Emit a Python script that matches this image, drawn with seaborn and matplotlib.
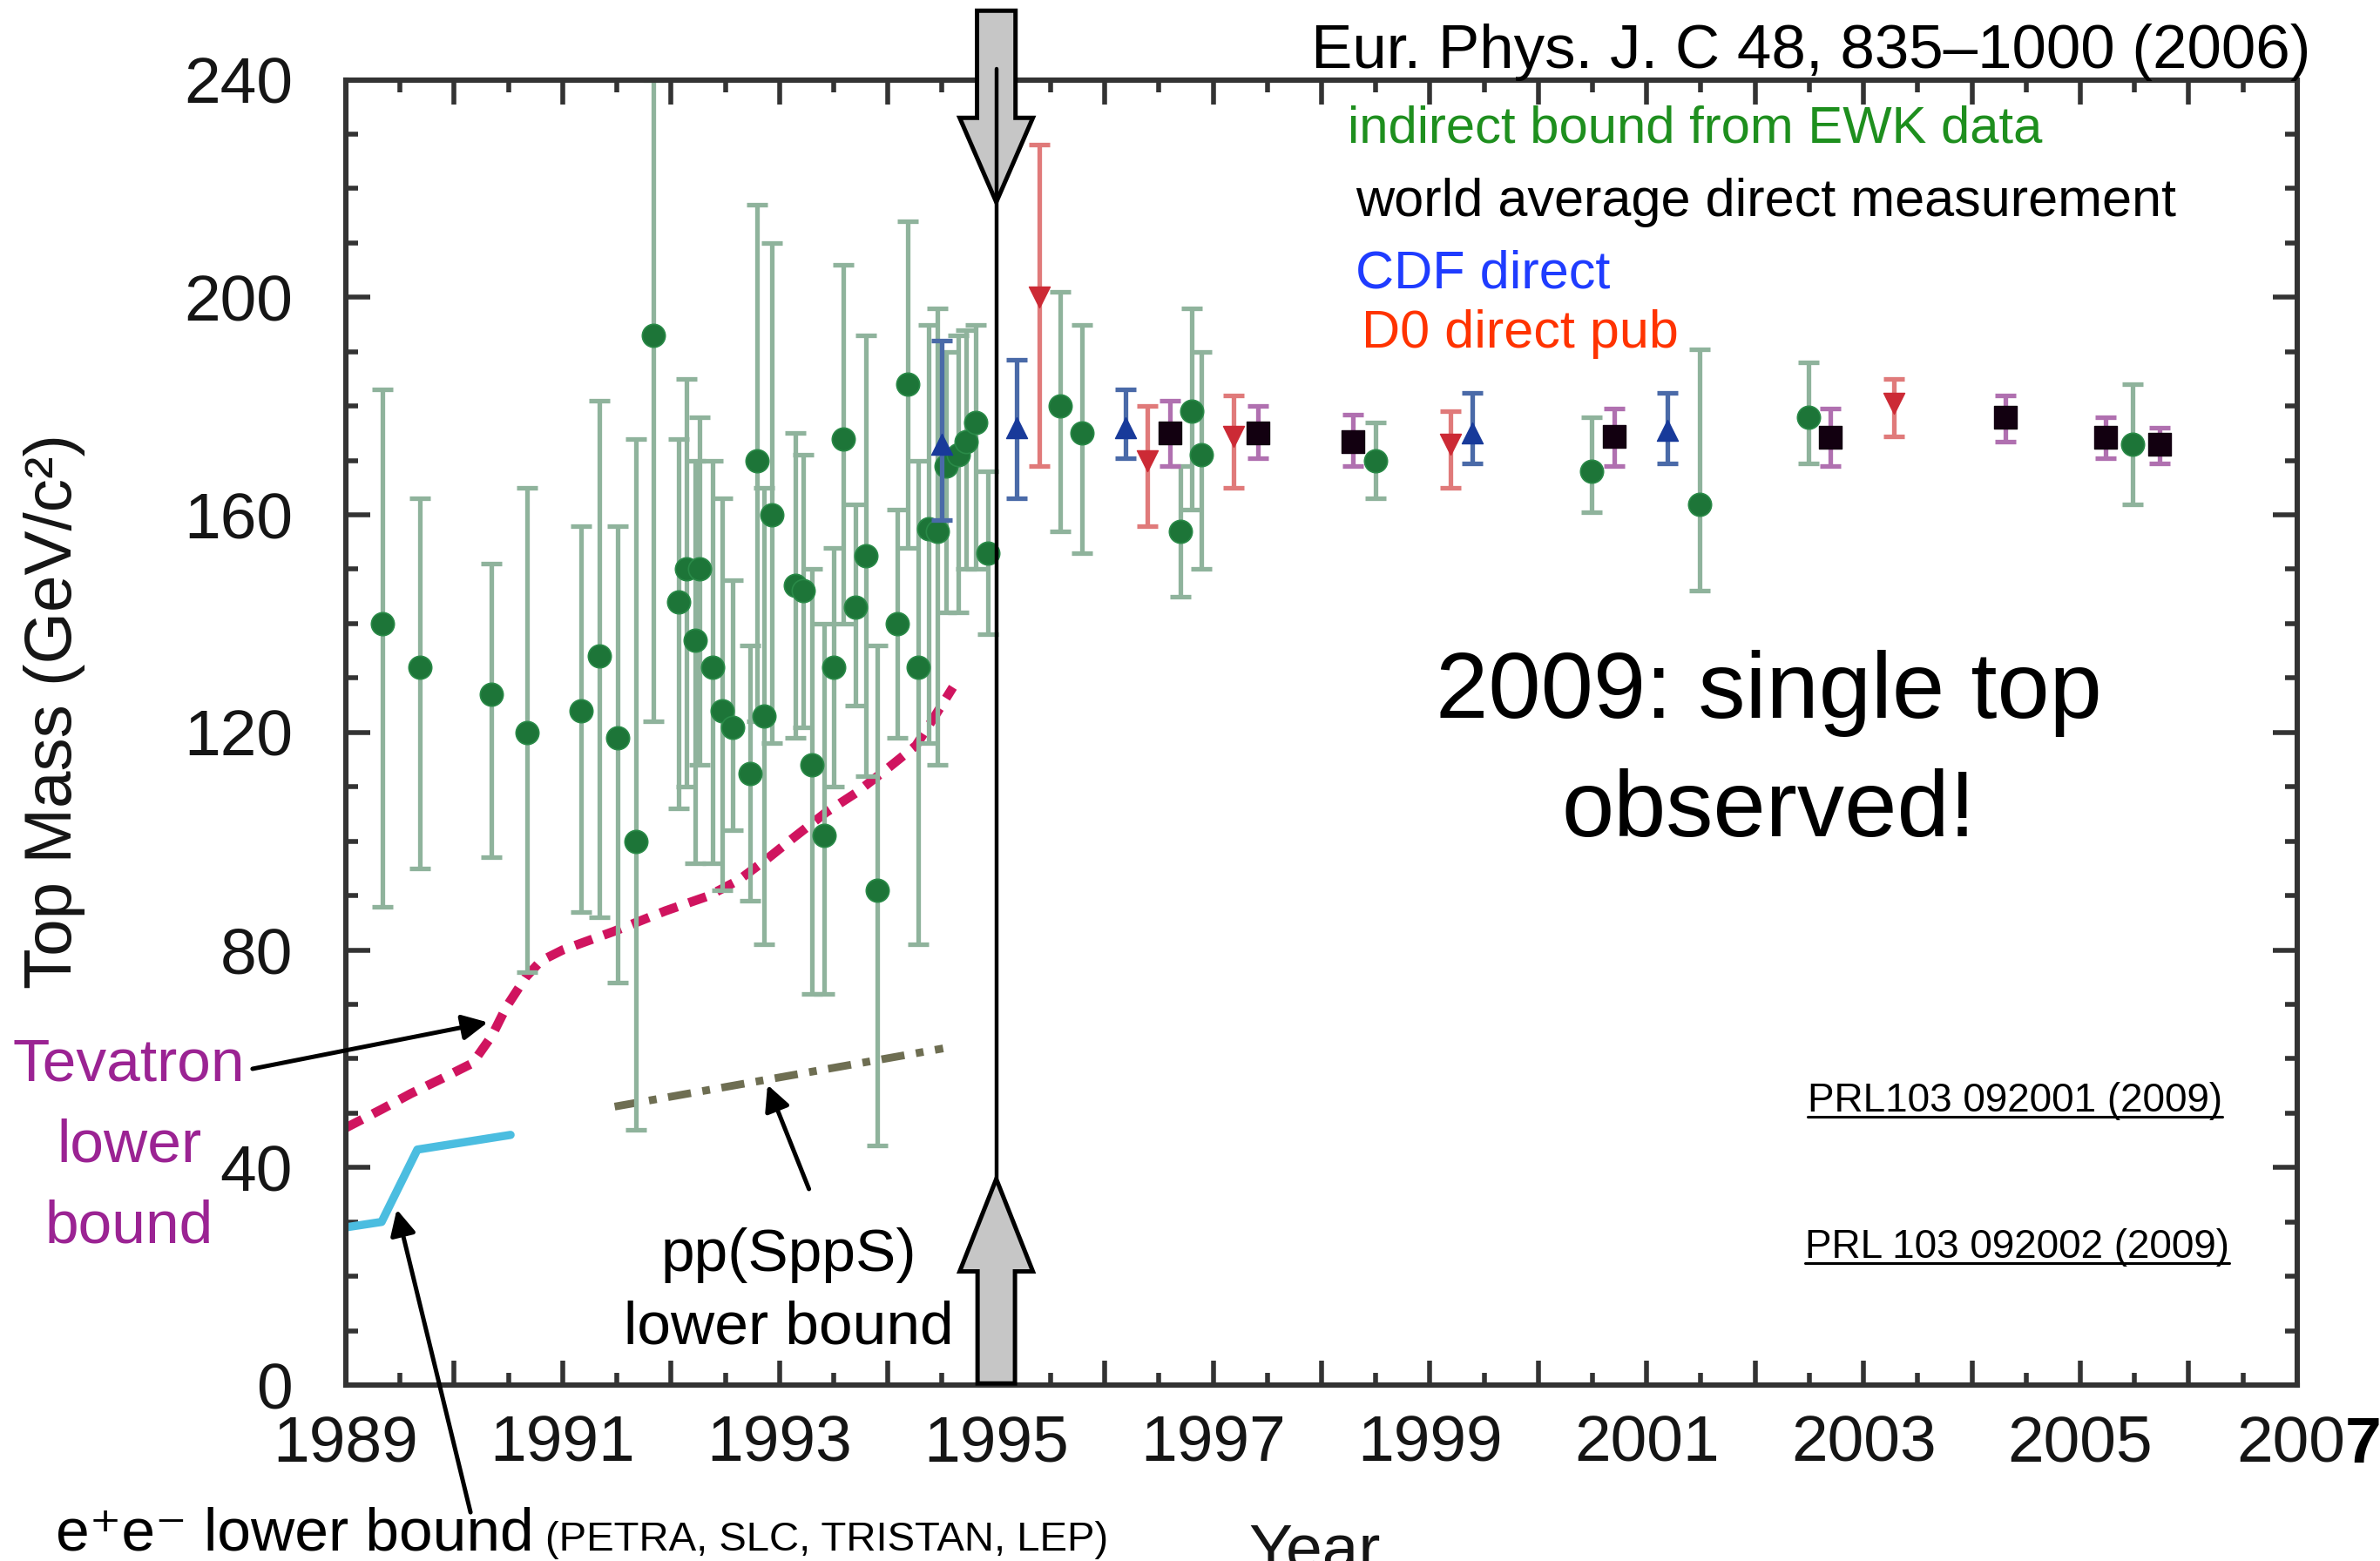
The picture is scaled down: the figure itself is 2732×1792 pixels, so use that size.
import numpy as np
import pandas as pd
import matplotlib
matplotlib.use("Agg")
import matplotlib.pyplot as plt
import seaborn as sns
from matplotlib.patches import FancyArrow
from matplotlib.lines import Line2D

# ---------------- data ----------------
ewk_year = [1989.34, 1989.68, 1990.34, 1990.67, 1991.17, 1991.34, 1991.51, 1991.68, 1991.84,
            1992.07, 1992.14, 1992.22, 1992.26, 1992.38, 1992.47, 1992.57, 1992.73, 1992.79,
            1992.86, 1992.93, 1993.15, 1993.22, 1993.30, 1993.41, 1993.50, 1993.59, 1993.70,
            1993.80, 1993.90, 1994.09, 1994.18, 1994.28, 1994.38, 1994.46, 1994.54, 1994.65,
            1994.72, 1994.81, 1994.92, 1995.59, 1995.79, 1996.70, 1996.80, 1996.89, 1998.50,
            2000.49, 2001.49, 2002.49, 2005.48]
ewk_mass = [140, 132, 127, 120, 124, 134, 119, 100, 193,
            144, 150, 137, 150, 132, 124, 121, 112.5, 170,
            123, 160, 147, 146, 114, 101, 132, 174, 143,
            152.5, 91, 140, 184, 132, 157.5, 157, 169, 171,
            173.5, 177, 153, 180, 175, 157, 179, 171, 170,
            168, 162, 178, 173]
ewk_lo = [88, 95, 97, 76, 87, 86, 74, 47, 122,
          106, 110, 96, 114, 96, 91, 102, 89, 122,
          81, 118, 119, 121, 72, 72, 110, 140, 125,
          112, 44, 119, 154, 81, 118, 114, 142, 142,
          150, 150, 138, 157, 153, 145, 161, 150, 163,
          160.5, 146, 169.5, 162]
ewk_hi = [183, 163, 151, 165, 158, 181, 158, 174, 240,
          174, 185, 170, 178, 170, 163, 148, 136, 217,
          165, 210, 175, 171, 150, 140, 154, 206, 162,
          193, 136, 161, 214, 170, 195, 198, 190, 193,
          194, 195, 168, 201, 195, 169, 198, 190, 177,
          178, 190.5, 188, 184]

cdf_year = [1994.50, 1995.19, 1996.19, 1999.39, 2001.19]
cdf_mass = [173, 176, 176, 175, 175.5]
cdf_lo = [159, 163, 170.5, 169.5, 169.5]
cdf_hi = [192, 188.5, 183, 182.5, 182.5]

d0_year = [1995.40, 1996.39, 1997.19, 1999.19, 2003.28]
d0_mass = [200, 170, 174.5, 173, 180.5]
d0_lo = [169, 158, 165, 165, 174.5]
d0_hi = [228, 180, 182, 179, 185]

wa_year = [1996.60, 1997.41, 1998.29, 2000.70, 2002.69, 2004.31, 2005.23, 2005.73]
wa_mass = [175, 175, 173.5, 174.5, 174.3, 178, 174.3, 173]
wa_lo = [169, 170.5, 169, 169, 169, 173.5, 170.5, 169.5]
wa_hi = [181, 180, 178.5, 179.5, 179.5, 182, 178, 176]

tev_year = [1989.0, 1989.33, 1989.6, 1989.88, 1990.17, 1990.35, 1990.48, 1990.66, 1990.8,
            1991.0, 1991.47, 1991.95, 1992.34, 1992.62, 1992.89, 1993.14, 1993.43, 1993.70,
            1993.98, 1994.26, 1994.44, 1994.60]
tev_mass = [47.3, 50.7, 53.6, 56.3, 59.2, 64.3, 69.5, 75, 78,
            80, 83.4, 87.2, 89.9, 92.8, 96.8, 100.8, 105.3, 108.8,
            113.1, 117.6, 123.2, 128.3]

ee_year = [1989.0, 1989.33, 1989.66, 1990.52]
ee_mass = [29, 30, 43.3, 46]

spps_year = [1991.48, 1994.51]
spps_mass = [51.2, 61.9]

x_ticks = list(range(1989, 2008))
x_labels = [str(y) if ((y - 1989) % 2 == 0 and y < 2007) else "" for y in x_ticks]
y_ticks = [0, 40, 80, 120, 160, 200, 240]

# ---------------- style ----------------
sns.set_style("ticks")
plt.rcParams["font.family"] = ["Liberation Sans", "DejaVu Sans"]

fig = plt.figure(figsize=(13.66, 8.96), dpi=200)
ax = fig.add_axes([0.1453, 0.1127, 0.8199, 0.8362])
ax.set_xlim(1989, 2007)
ax.set_ylim(0, 240)

spine_col = "#333333"
lab_col = "#151515"
for s in ax.spines.values():
    s.set_color(spine_col)
    s.set_linewidth(2.2)

ax.set_xticks(x_ticks)
ax.set_xticklabels(x_labels)
ax.set_xticks(np.arange(1989, 2007.01, 0.5), minor=True)
ax.set_yticks(y_ticks)
ax.set_yticklabels([str(v) for v in y_ticks])
ax.set_yticks(np.arange(0, 241, 10), minor=True)
ax.tick_params(which="both", direction="in", top=True, right=True, color=spine_col, width=2)
ax.tick_params(which="major", length=10, labelsize=27, labelcolor=lab_col)
ax.tick_params(which="minor", length=5)
ax.tick_params(axis="x", which="major", pad=12)
ax.tick_params(axis="y", which="major", pad=22)
ax.set_xlabel("")
ax.set_ylabel("")

# ---------------- bound lines ----------------
sns.lineplot(x=tev_year, y=tev_mass, ax=ax, color="#d0145f", lw=3.8, sort=False,
             estimator=None, linestyle=(0, (2.0, 1.3)), zorder=2)
sns.lineplot(x=ee_year, y=ee_mass, ax=ax, color="#4bbde0", lw=3.4, sort=False,
             estimator=None, zorder=2)
sns.lineplot(x=spps_year, y=spps_mass, ax=ax, color="#6e6e52", lw=3.2, sort=False,
             estimator=None, linestyle=(0, (3.0, 1.5, 1.0, 1.5)), zorder=2)

# ---------------- data points ----------------
def bars(xs, ys, lo, hi, col, lw=1.9, cap=4.2, z=2):
    ys = np.asarray(ys, float)
    err = [ys - np.asarray(lo, float), np.asarray(hi, float) - ys]
    ax.errorbar(xs, ys, yerr=err, fmt="none", ecolor=col, elinewidth=lw,
                capsize=cap, capthick=lw, zorder=z)

bars(ewk_year, ewk_mass, ewk_lo, ewk_hi, "#8fb39c")
sns.scatterplot(x=ewk_year, y=ewk_mass, ax=ax, marker="o", s=90, color="#1d7538",
                edgecolor="#2a8a48", linewidth=0.6, zorder=3, legend=False)

bars(cdf_year, cdf_mass, cdf_lo, cdf_hi, "#4a6aa8", z=4)
sns.scatterplot(x=cdf_year, y=cdf_mass, ax=ax, marker="^", s=75, color="#183a9a",
                edgecolor="#183a9a", linewidth=0.5, zorder=5, legend=False)

bars(d0_year, d0_mass, d0_lo, d0_hi, "#e07a7a", z=4)
sns.scatterplot(x=d0_year, y=d0_mass, ax=ax, marker="v", s=75, color="#cc2a35",
                edgecolor="#cc2a35", linewidth=0.5, zorder=5, legend=False)

bars(wa_year, wa_mass, wa_lo, wa_hi, "#b070b0", z=4)
sns.scatterplot(x=wa_year, y=wa_mass, ax=ax, marker="s", s=90, color="#120010",
                edgecolor="#120010", linewidth=0.5, zorder=5, legend=False)

# ---------------- 1995 arrows and line ----------------
arr_kw = dict(length_includes_head=True, fc="#c6c6c6", ec="black", lw=1.8, clip_on=False, zorder=6)
ax.add_patch(FancyArrow(1995.0, 252.7, 0, -35.2, width=0.355, head_width=0.675,
                        head_length=15.5, **arr_kw))
ax.add_patch(FancyArrow(1995.0, 0.3, 0, 37.6, width=0.345, head_width=0.675,
                        head_length=17, **arr_kw))
ax.plot([1995.0, 1995.0], [242, 38], color="black", lw=1.6, zorder=7, clip_on=False)

# ---------------- texts ----------------
fig.text(0.023, 0.5443, "Top Mass (GeV/c²)", rotation=90, ha="center", va="center",
         fontsize=27.5, color=lab_col)
fig.text(0.5523, 0.0250, "Year", ha="center", va="top", fontsize=27, color=lab_col)
# last x label: "200" followed by a bold "7"
fig.text(0.9853, 0.0631, "200", ha="right", va="baseline", fontsize=27, color=lab_col)
fig.text(0.9930, 0.0631, "7", ha="center", va="baseline", fontsize=27,
         fontweight="bold", color="black")

fig.text(0.9707, 0.9567, "Eur. Phys. J. C 48, 835–1000 (2006)", ha="right",
         va="baseline", fontsize=25.5, color="black")
fig.text(0.5663, 0.9087, "indirect bound from EWK data", ha="left", va="baseline",
         fontsize=21.5, color="#1e8f1e")
fig.text(0.5695, 0.8616, "world average direct measurement", ha="left", va="baseline",
         fontsize=22, color="black")
fig.text(0.5695, 0.8158, "CDF direct", ha="left", va="baseline", fontsize=22,
         color="#1f3cff")
fig.text(0.5720, 0.7772, "D0 direct pub", ha="left", va="baseline", fontsize=22,
         color="#ff3300")

fig.text(0.7433, 0.5401, "2009: single top", ha="center", va="baseline", fontsize=39,
         color="black")
fig.text(0.7433, 0.4642, "observed!", ha="center", va="baseline", fontsize=39,
         color="black")

prl = []
prl.append((fig.text(0.9337, 0.2879, "PRL103 092001 (2009)", ha="right", va="baseline",
                     fontsize=16.5, color="black"), 0.2879))
prl.append((fig.text(0.9365, 0.1943, "PRL 103 092002 (2009)", ha="right", va="baseline",
                     fontsize=16.5, color="black"), 0.1943))

tev_col = "#9b2393"
fig.text(0.0542, 0.3076, "Tevatron", ha="center", va="baseline", fontsize=25, color=tev_col)
fig.text(0.0542, 0.2561, "lower", ha="center", va="baseline", fontsize=25, color=tev_col)
fig.text(0.0542, 0.2037, "bound", ha="center", va="baseline", fontsize=25, color=tev_col)

fig.text(0.3312, 0.1858, "pp(SppS)", ha="center", va="baseline", fontsize=25, color="black")
fig.text(0.3312, 0.1393, "lower bound", ha="center", va="baseline", fontsize=25, color="black")

ee_txt = fig.text(0.0235, 0.0068, "e⁺e⁻ lower bound", ha="left", va="baseline",
                  fontsize=25, color="black")

ann_kw = dict(arrowstyle="-|>", color="black", lw=1.8, mutation_scale=22, shrinkA=0, shrinkB=0)
ax.annotate("", xy=(1990.31, 66.7), xycoords="data", xytext=(0.1061, 0.3153),
            textcoords="figure fraction", arrowprops=ann_kw, annotation_clip=False)
ax.annotate("", xy=(1992.89, 55.2), xycoords="data", xytext=(0.3399, 0.2383),
            textcoords="figure fraction", arrowprops=ann_kw, annotation_clip=False)
ax.annotate("", xy=(1989.47, 32.3), xycoords="data", xytext=(0.1977, 0.0312),
            textcoords="figure fraction", arrowprops=ann_kw, annotation_clip=False)

# measured placements: underlines and the small parenthetical text
fig.canvas.draw()
r = fig.canvas.get_renderer()
inv = fig.transFigure.inverted()
for t, yb in prl:
    bb = t.get_window_extent(r).transformed(inv)
    fig.add_artist(Line2D([bb.x0, bb.x1], [yb - 0.0035, yb - 0.0035],
                          transform=fig.transFigure, color="black", lw=1.1))
eb = ee_txt.get_window_extent(r).transformed(inv)
fig.text(eb.x1 + 0.005, 0.0068, "(PETRA, SLC, TRISTAN, LEP)", ha="left",
         va="baseline", fontsize=17, color="black")

fig.savefig("out.png", dpi=200)
